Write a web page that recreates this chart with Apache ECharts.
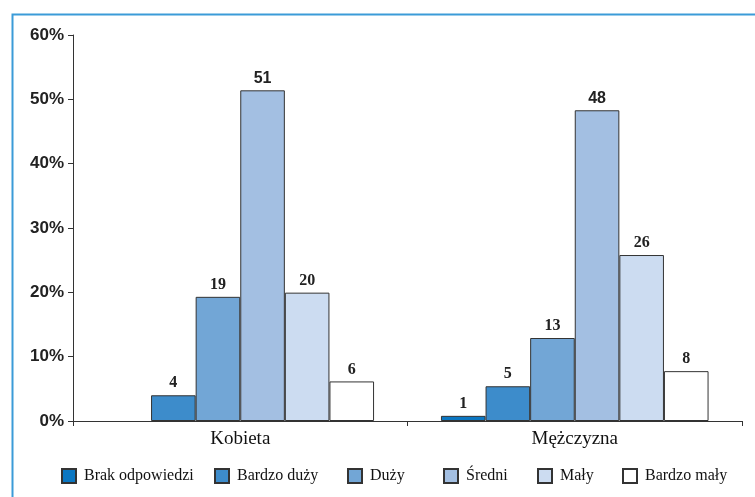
<!DOCTYPE html>
<html>
<head>
<meta charset="utf-8">
<script src="https://cdn.jsdelivr.net/npm/echarts@6/dist/echarts.min.js"></script>
<style>
html,body{margin:0;padding:0;background:#fff;}
#c{width:755px;height:497px;}
</style>
</head>
<body>
<div id="c"></div>
<script>
const categories = ['Kobieta', 'Mężczyzna'];
const seriesNames = ['Brak odpowiedzi', 'Bardzo duży', 'Duży', 'Średni', 'Mały', 'Bardzo mały'];
const brakOdpowiedzi = [null, 0.8];
const bardzoDuzy = [4.0, 5.4];
const duzy = [19.3, 12.9];
const sredni = [51.4, 48.3];
const maly = [19.95, 25.8];
const bardzoMaly = [6.15, 7.75];
const yTicks = [0, 10, 20, 30, 40, 50, 60];
const colors = ['#0b77c2', '#3d8ccb', '#72a6d6', '#a3bfe2', '#ccdcf1', '#ffffff'];

const seriesData = [brakOdpowiedzi, bardzoDuzy, duzy, sredni, maly, bardzoMaly];
const legendLeft = [56, 209, 342, 438, 532, 617];
const serif = '"Liberation Serif", "DejaVu Serif", serif';
const sans = '"Liberation Sans", "DejaVu Sans", sans-serif';

const chart = echarts.init(document.getElementById('c'), null, {renderer: 'canvas'});
chart.setOption({
  animation: false,
  backgroundColor: '#fff',
  graphic: [{
    type: 'rect', left: 10, top: 12, silent: true,
    shape: {width: 800, height: 600},
    style: {fill: 'none', stroke: '#3b9bd8', lineWidth: 2}
  }],
  grid: {left: 73, right: 13, top: 35, bottom: 76},
  legend: seriesNames.map((name, i) => ({
    left: legendLeft[i], top: 463,
    itemWidth: 14, itemHeight: 14, itemGap: 8,
    icon: 'rect',
    textStyle: {fontFamily: serif, fontSize: 16, color: '#111', padding: [0, 0, 0, 3]},
    data: [name]
  })),
  xAxis: {
    type: 'category', data: categories,
    axisLine: {lineStyle: {color: '#333', width: 1}},
    axisTick: {show: true, length: 5, lineStyle: {color: '#333'}},
    axisLabel: {fontFamily: serif, fontSize: 19, color: '#111', margin: 9}
  },
  yAxis: {
    type: 'value', min: 0, max: 60, interval: 10,
    splitLine: {show: false},
    axisLine: {show: true, lineStyle: {color: '#333', width: 1}},
    axisTick: {show: true, length: 5, lineStyle: {color: '#333'}},
    axisLabel: {
      fontFamily: sans, fontWeight: 'bold', fontSize: 17, color: '#222', margin: 9,
      formatter: v => yTicks.includes(v) ? v + '%' : ''
    }
  },
  series: seriesNames.map((name, i) => ({
    name, type: 'bar',
    data: seriesData[i],
    barGap: 0, barCategoryGap: '20%',
    itemStyle: {color: colors[i], borderColor: '#333', borderWidth: 1},
    label: {
      show: true, position: 'top', distance: 4,
      fontFamily: i === 3 ? sans : serif, fontWeight: 'bold', fontSize: 16, color: '#222',
      formatter: p => (p.value == null ? '' : Math.round(p.value))
    }
  }))
});
</script>
</body>
</html>
